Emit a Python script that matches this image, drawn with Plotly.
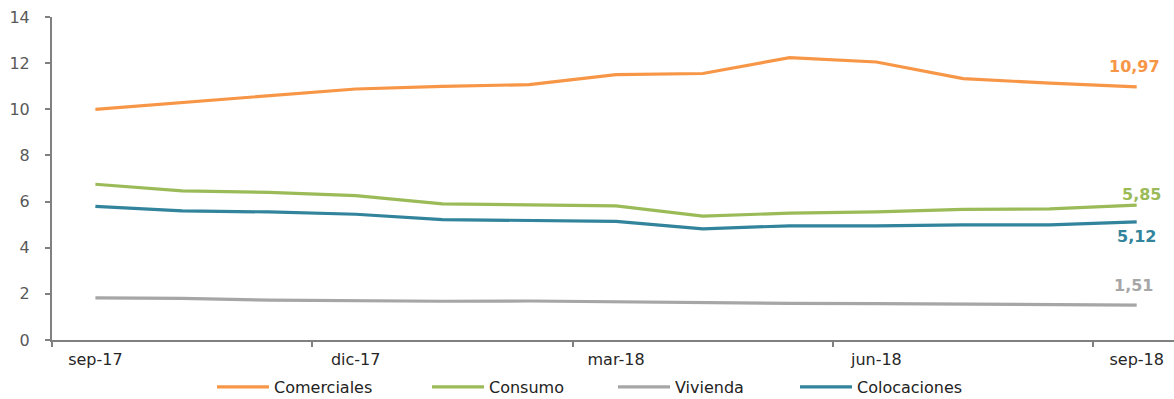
import plotly.graph_objects as go

months = ["sep-17", "oct-17", "nov-17", "dic-17", "ene-18", "feb-18", "mar-18",
          "abr-18", "may-18", "jun-18", "jul-18", "ago-18", "sep-18"]
tick_labels = ["sep-17", "dic-17", "mar-18", "jun-18", "sep-18"]

comerciales = [10.00, 10.30, 10.60, 10.88, 10.99, 11.07, 11.50, 11.55, 12.24, 12.05, 11.33, 11.13, 10.97]
consumo = [6.75, 6.46, 6.40, 6.26, 5.90, 5.86, 5.81, 5.37, 5.50, 5.55, 5.66, 5.68, 5.85]
vivienda = [1.83, 1.80, 1.73, 1.69, 1.68, 1.69, 1.66, 1.60, 1.59, 1.58, 1.55, 1.51, 1.51]
colocaciones = [5.79, 5.60, 5.55, 5.45, 5.22, 5.18, 5.14, 4.82, 4.95, 4.95, 4.99, 4.99, 5.12]

series = [
    ("Comerciales", comerciales, "#F79646"),
    ("Consumo", consumo, "#9BBB59"),
    ("Vivienda", vivienda, "#A6A6A6"),
    ("Colocaciones", colocaciones, "#31849B"),
]
label_shift = {"Comerciales": (-2, 20), "Consumo": (5, 11), "Vivienda": (-3, 20), "Colocaciones": (0, -15)}
legend_left = [212, 427, 613, 795]

FONT = "DejaVu Sans"
fig = go.Figure()
legend_layout = {}
for i, (name, vals, color) in enumerate(series):
    lg = "legend" if i == 0 else f"legend{i + 1}"
    fig.add_trace(go.Scatter(x=months, y=vals, name=name, mode="lines",
                             line=dict(color=color, width=3.2), legend=lg))
    legend_layout[lg] = dict(orientation="h", x=legend_left[i] / 1174, xref="container", xanchor="left",
                             y=0.03, yref="container", yanchor="middle",
                             font=dict(family=FONT, size=16, color="#222222"),
                             itemwidth=52, bgcolor="rgba(0,0,0,0)")
    dx, dy = label_shift[name]
    fig.add_annotation(x=months[-1], y=vals[-1], text=f"{vals[-1]:.2f}".replace(".", ","),
                       showarrow=False, xshift=dx, yshift=dy,
                       font=dict(family=FONT, size=16, color=color, weight="bold"))

fig.update_layout(
    width=1174, height=399,
    margin=dict(l=52, r=0, t=17, b=59, autoexpand=False),
    paper_bgcolor="white", plot_bgcolor="white",
    font=dict(family=FONT),
    showlegend=True,
    **legend_layout,
)
fig.update_xaxes(type="category", tickmode="array", tickvals=tick_labels, ticktext=tick_labels,
                 tickson="boundaries", ticks="outside", ticklen=5, tickwidth=1.5, tickcolor="#808080",
                 showline=True, linecolor="#808080", linewidth=2, showgrid=False,
                 range=[-0.5, 12.43], tickfont=dict(family=FONT, size=16, color="#262626"),
                 ticklabelstandoff=4)
fig.update_yaxes(range=[0, 14], dtick=2, ticks="outside", ticklen=5, tickwidth=1.5, tickcolor="#808080",
                 showline=True, linecolor="#808080", linewidth=2, showgrid=False, zeroline=False,
                 tickfont=dict(family=FONT, size=16, color="#595959"), ticklabelstandoff=12)

fig.write_html("out.html")
